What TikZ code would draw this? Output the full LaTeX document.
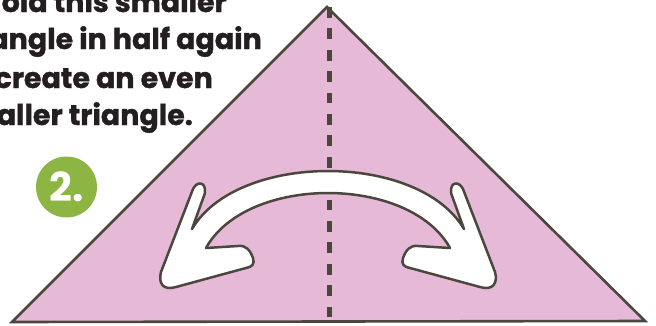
\documentclass[tikz,border=0pt]{standalone}
\usepackage{fontspec}
\setmainfont{Poppins}
\definecolor{pinkfill}{HTML}{E6BAD6}
\definecolor{ink}{HTML}{4B473F}
\definecolor{txtcol}{HTML}{231F20}
\definecolor{badgegreen}{HTML}{8CB543}
\tikzset{
  paper/.style={fill=pinkfill, draw=ink, line width=2.6pt, line join=miter},
  foldline/.style={draw=ink, line width=5pt, dash pattern=on 10.7pt off 10.7pt},
  swapper/.style={fill=white, draw=ink, line width=2.5pt, line join=round},
  caption/.style={text=txtcol, font=\bfseries\fontsize{28.5}{28.5}\selectfont\addfontfeature{FakeBold=1.2}, inner sep=0pt, anchor=base east},
  badge/.style={circle, fill=badgegreen, minimum size=61pt, inner sep=0pt},
  badgetext/.style={text=white, font=\bfseries\fontsize{40}{40}\selectfont, inner sep=0pt}
}
\begin{document}
\begin{tikzpicture}[x=1pt,y=-1pt]
\useasboundingbox (0,0) rectangle (656,325);
\clip (0,0) rectangle (656,325);
% triangle
\coordinate (apex) at (327,7);
\coordinate (bl) at (12,322);
\coordinate (br) at (645,321);
\coordinate (foldtop) at (329,7);
\coordinate (foldbot) at (329,321);
\fill[pinkfill] (apex) -- (br) -- (bl) -- cycle;
\draw[foldline] (foldtop) -- (foldbot);
% double arrow
\filldraw[swapper] (206,248) -- (238,246) .. controls (246,245) and (250,250) .. (253,258)
  .. controls (255,264) and (252,267) .. (246,268)
  -- (176,287) .. controls (163,291) and (158,283) .. (161,272)
  -- (193,189) .. controls (197,181) and (206,181) .. (205,193)
  -- (192,229)
  .. controls (237.3,151.7) and (418.7,151.7) .. (464,229)
  -- (451,193) .. controls (450,181) and (459,181) .. (463,189)
  -- (495,272) .. controls (498,283) and (493,291) .. (480,287)
  -- (410,268) .. controls (404,267) and (401,264) .. (403,258)
  .. controls (406,250) and (410,245) .. (418,246)
  -- (450,248)
  .. controls (409.3,174.7) and (246.7,174.7) .. (206,248) -- cycle;
\draw[paper, fill=none] (apex) -- (br) -- (bl) -- cycle;
% text
\node[caption] (l1) at (227,12) {Fold this smaller};
\node[caption] (l2) at (262,49) {triangle in half again};
\node[caption] (l3) at (213,88) {to create an even};
\node[caption] (l4) at (193,125) {smaller triangle.};
% badge
\node[badge] (b) at (66.5,187) {};
\node[badgetext] (bt) at (b.center) {2.};
\end{tikzpicture}
\end{document}
